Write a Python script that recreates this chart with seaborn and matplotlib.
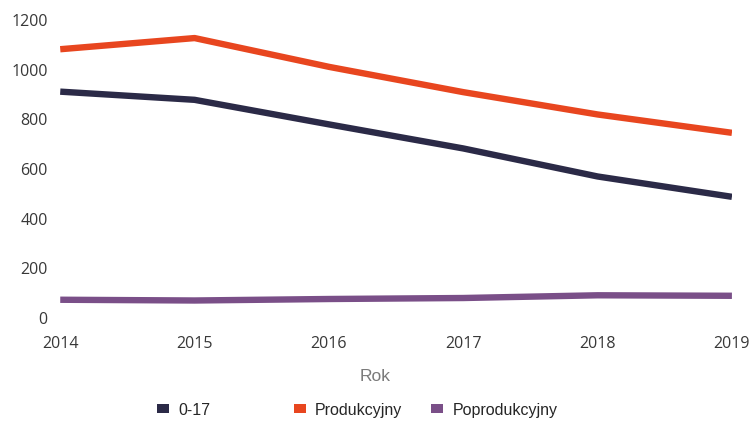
import numpy as np
import pandas as pd
import matplotlib.pyplot as plt
from matplotlib.patches import Patch
import seaborn as sns

# data
years = [2014, 2015, 2016, 2017, 2018, 2019]
age_0_17 = [912, 879, 780, 683, 570, 488]
produkcyjny = [1083, 1128, 1012, 910, 820, 746]
poprodukcyjny = [73, 70, 76, 80, 91, 89]

series_names = ["0-17", "Produkcyjny", "Poprodukcyjny"]
colors = ["#2b2a47", "#e8461f", "#7a4f88"]

df = pd.DataFrame({
    "Rok": years * 3,
    "Wartość": age_0_17 + produkcyjny + poprodukcyjny,
    "Grupa": np.repeat(series_names, len(years)),
})

sns.set_theme(style="white")
plt.rcParams["font.family"] = ["Open Sans", "DejaVu Sans"]

fig = plt.figure(figsize=(7.53, 4.21), dpi=100)
ax = fig.add_axes([0.080, 0.245, 0.892, 0.707])

sns.lineplot(data=df, x="Rok", y="Wartość", hue="Grupa",
             palette=dict(zip(series_names, colors)),
             linewidth=4.6, legend=False, ax=ax)
for ln in ax.get_lines():
    ln.set_solid_capstyle("butt")

ax.set_xlim(2014, 2019)
ax.set_ylim(0, 1200)
ax.set_xticks(years)
ax.set_yticks(range(0, 1201, 200))
ax.tick_params(axis="both", length=0, labelsize=11.5, colors="#383838")
ax.tick_params(axis="y", pad=9)
ax.tick_params(axis="x", pad=13)
for s in ax.spines.values():
    s.set_visible(False)
ax.set_ylabel("")
ax.set_xlabel("Rok", fontsize=12.5, color="#7a7a7a", labelpad=12, x=0.469,
              family=["Liberation Sans", "DejaVu Sans"])

# legend entries, spaced like the original
legend_x = [0.208, 0.390, 0.573]
for name, col, lx in zip(series_names, colors, legend_x):
    fig.legend(handles=[Patch(facecolor=col, edgecolor="none", label=name)],
               loc="center left", bbox_to_anchor=(lx, 0.026), frameon=False,
               handlelength=0.75, handleheight=0.5, handletextpad=0.6,
               borderpad=0, borderaxespad=0,
               prop={"family": ["Liberation Sans", "DejaVu Sans"], "size": 11.5})

fig.savefig("out.png", dpi=100)
